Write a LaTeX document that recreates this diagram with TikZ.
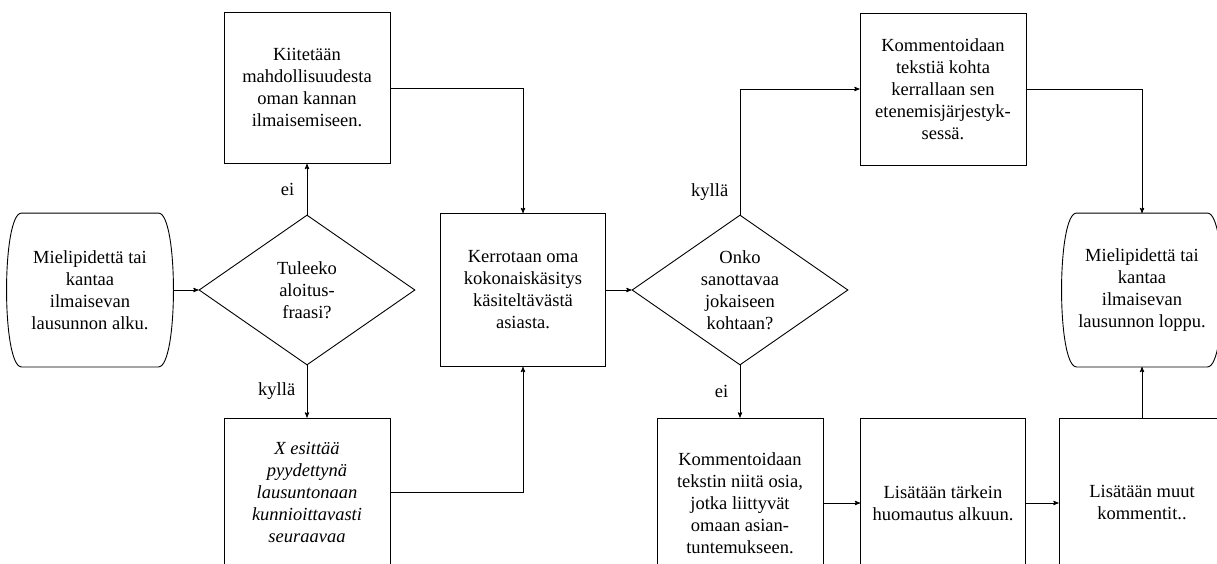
\documentclass[tikz,border=0pt]{standalone}
\usepackage{fontspec}
\setmainfont{Liberation Serif}
\newfontfamily\timesface{Liberation Serif}
\usetikzlibrary{shapes, shapes.geometric, arrows, positioning}
\newcommand{\termframe}[1]{%
	\draw[black] ([xshift=-15pt]#1.north east) .. controls ([xshift=5pt]#1.north east) and ([xshift=5pt]#1.south east) .. ([xshift=-15pt]#1.south east)
	-- ([xshift=15pt]#1.south west) .. controls ([xshift=-5pt]#1.south west) and ([xshift=-5pt]#1.north west) .. ([xshift=15pt]#1.north west) -- cycle;}
\tikzset{%
	% common text settings
	every node/.style={font=\timesface\fontsize{18.5}{22}\selectfont}
}

\begin{document}
\begin{tikzpicture}[x=1pt, y=-1pt, line width=0.9pt]
	
	\tikzstyle{boxed}=[rectangle, draw, align=center, inner sep=0pt, minimum width=166pt]
	\tikzstyle{term}=[rectangle, align=center, inner sep=0pt, minimum height=153pt]
	\tikzstyle{choice}=[diamond, draw, align=center, inner sep=0pt, aspect=1.44, minimum width=216pt, minimum height=150pt]
	\tikzstyle{arc}=[->,>=stealth', black]
	
	\useasboundingbox (0,0) rectangle (1217,564);
	\clip (0,0) rectangle (1217,564);
	
	% placement des noeuds
	\node[term, minimum width=166pt] 	(start) at (90,290) 	{Mielipidettä tai\\kantaa\\ilmaisevan\\lausunnon alku.};
	\termframe{start}
	\node[choice] 	(q1) at (307,290) 	{Tuleeko\\aloitus-\\fraasi?};
	\node[boxed, minimum height=151pt] 	(thanks) at (307,88) 	{Kiitetään\\mahdollisuudesta\\oman kannan\\ilmaisemiseen.};
	\node[boxed, minimum height=148pt, font=\timesface\fontsize{18.5}{22}\selectfont\itshape] 	(xbox) at (307,492) 	{X esittää\\pyydettynä\\lausuntonaan\\kunnioittavasti\\seuraavaa};
	\node[boxed, minimum width=165pt, minimum height=153pt] 	(overall) at (523,290) 	{Kerrotaan oma\\kokonaiskäsitys\\käsiteltävästä\\asiasta.};
	\node[choice] 	(q2) at (740,290) 	{Onko\\sanottavaa\\jokaiseen\\kohtaan?};
	\node[boxed, minimum height=152pt] 	(comm) at (943,89) 	{Kommentoidaan\\tekstiä kohta\\kerrallaan sen\\etenemisjärjestyk-\\sessä.};
	\node[boxed, minimum height=170pt] 	(parts) at (740,503) 	{Kommentoidaan\\tekstin niitä osia,\\jotka liittyvät\\omaan asian-\\tuntemukseen.};
	\node[boxed, minimum width=165pt, minimum height=170pt] 	(main) at (943,503) 	{Lisätään tärkein\\huomautus alkuun.};
	\node[boxed, minimum height=170pt] 	(other) at (1142,503) 	{Lisätään muut\\kommentit..};
	\node[term, minimum width=160pt] 	(end) at (1142,290) 	{Mielipidettä tai\\kantaa\\ilmaisevan\\lausunnon loppu.};
	\termframe{end}
	
	% liitokset
	\draw[arc] (start.east) -- (q1.west) ;
	\draw[arc] (q1.north) -- node[left=9pt] {ei} (thanks.south) ;
	\draw[arc] (q1.south) -- node[left=8pt] {kyllä} (xbox.north) ;
	\draw[arc] (thanks.east) -| (overall.north) ;
	\draw[arc] (xbox.east) -| (overall.south) ;
	\draw[arc] (overall.east) -- (q2.west) ;
	\draw[arc] (q2.north) |- node[pos=0.09, left=8pt] {kyllä} (comm.west) ;
	\draw[arc] (q2.south) -- node[left=8pt] {ei} (parts.north) ;
	\draw[arc] (parts.east) -- (main.west) ;
	\draw[arc] (main.east) -- (other.west) ;
	\draw[arc] (comm.east) -| (end.north) ;
	\draw[arc] (other.north) -- (end.south) ;
	
\end{tikzpicture}
\end{document}
